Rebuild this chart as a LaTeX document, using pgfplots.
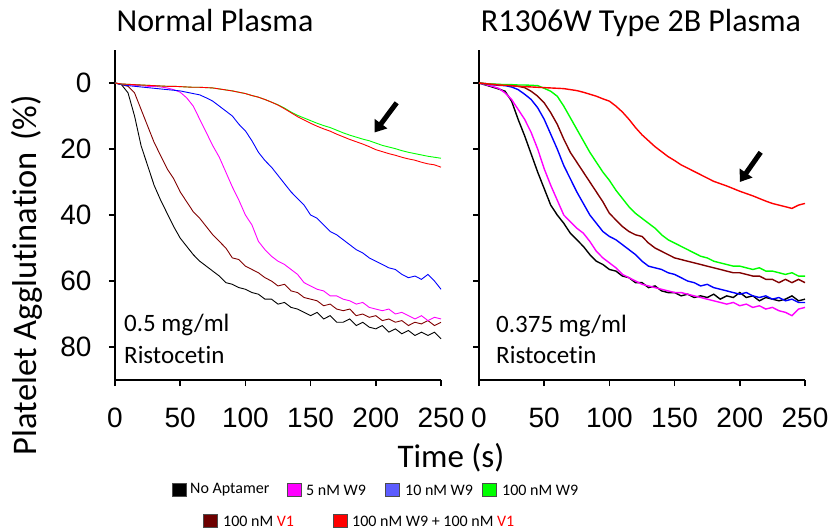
\documentclass[border=0pt]{standalone}
\usepackage{fontspec}
\setmainfont{Carlito}[Ligatures={NoCommon}]
\newfontfamily\arial{Liberation Sans}
\usepackage{pgfplots}
\pgfplotsset{compat=1.18}
\usetikzlibrary{arrows.meta}
\definecolor{dred}{RGB}{128,0,0}
\definecolor{lblue}{RGB}{92,92,255}
\definecolor{lgreen}{RGB}{0,255,0}
\definecolor{mag}{RGB}{255,0,255}
\definecolor{pblue}{RGB}{0,0,255}
\definecolor{pred}{RGB}{255,0,0}
\pgfplotsset{panel/.style={
  scale only axis, width=326pt, height=330pt, anchor=south west,
  xmin=0, xmax=250, ymin=-10, ymax=90, y dir=reverse,
  axis x line=bottom, axis y line=left,
  axis line style={line width=1.5pt,-},
  xtick={0,50,...,250}, ytick={0,20,...,80},
  tick align=outside, major tick length=6pt,
  tick style={line width=1.5pt,black},
  /pgf/number format/assume math mode=true,
  yticklabel style={font=\fontsize{28}{30}\selectfont\arial, xshift=-14pt},
  xticklabel=\empty,
  clip=false,
  every axis plot/.append style={no markers}
}}
\newcommand\xlabels{\pgfplotsinvokeforeach{0,50,100,150,200,250}{%
  \node[anchor=north, inner sep=0pt, font=\fontsize{28}{30}\selectfont\arial] at ([yshift=-28pt]axis cs:##1,90) {##1};}}
\begin{document}
\begin{tikzpicture}
\path[use as bounding box] (-115pt,-151pt) rectangle (721pt,380pt);
% Left panel
\begin{axis}[panel, at={(0pt,0pt)}]
\addplot[black, line width=0.9pt] coordinates {(0,0)(5,0.5)(10,3)(15,10)(20,19)(25,25)(30,31)(35,35.5)(40,39.5)(45,43.5)(50,47)(55,49.5)(60,52)(65,54)(70,55.5)(75,57)(80,58.5)(85,60.5)(90,61)(95,62)(100,62.5)(105,63.5)(110,64)(115,65.5)(120,65.5)(125,67)(130,66.5)(135,68)(140,68.5)(145,69.5)(150,70.5)(155,69.5)(160,71.5)(165,70.5)(170,72.5)(175,72.5)(180,71.5)(185,73.5)(190,72.5)(195,74)(200,74.5)(205,73.5)(210,75.5)(215,74.5)(220,76)(225,75)(230,76.5)(235,75.5)(240,76.5)(245,75.5)(250,77.5)};
\addplot[dred, line width=0.9pt] coordinates {(0,0)(5,0.5)(10,1)(15,3)(20,8)(25,13)(30,18)(35,22)(40,26)(45,29)(50,33)(55,36)(60,39)(65,41)(70,43.5)(75,46)(80,48)(85,50)(90,53)(95,53.5)(100,55.5)(105,56.5)(110,57.5)(115,59)(120,60)(125,61.5)(130,61)(135,63)(140,63.5)(145,65)(150,65.5)(155,66)(160,67.5)(165,67)(170,68.5)(175,69)(180,68.5)(185,70.5)(190,70)(195,71)(200,70.5)(205,72)(210,71.5)(215,72.5)(220,72)(225,73.5)(230,72.5)(235,73)(240,72)(245,73.5)(250,72.5)};
\addplot[mag, line width=0.9pt] coordinates {(0,0)(5,0.3)(10,0.5)(15,0.7)(20,0.8)(25,1)(30,1)(35,1.2)(40,1.5)(45,2)(50,2.8)(55,4.5)(60,7)(65,11)(70,15)(75,19)(80,22.5)(85,27)(90,31.5)(95,35.5)(100,40)(105,43)(110,48)(115,50.5)(120,52.5)(125,54)(130,55)(135,56.5)(140,58)(145,60.5)(150,61.5)(155,62.5)(160,63)(165,64.5)(170,64.5)(175,65.5)(180,66)(185,67)(190,66.5)(195,68)(200,68.5)(205,69)(210,68.5)(215,70)(220,69.5)(225,70.5)(230,71.5)(235,70.5)(240,72)(245,71)(250,71.5)};
\addplot[pblue, line width=0.9pt] coordinates {(0,0)(5,0.5)(10,0.8)(15,1)(20,1.2)(25,1.4)(30,1.6)(35,1.8)(40,2)(45,2.2)(50,2.4)(55,2.8)(60,3.2)(65,3.6)(70,4.5)(75,5.5)(80,7)(85,8.5)(90,10)(95,12.5)(100,14.5)(105,17.5)(110,21)(115,23.5)(120,25.5)(125,28)(130,30.5)(135,33)(140,35)(145,37)(150,40)(155,41)(160,43)(165,45)(170,46)(175,47.5)(180,49)(185,50.5)(190,51.5)(195,53)(200,54)(205,55)(210,56)(215,56.5)(220,58)(225,59)(230,58.5)(235,59.5)(240,58)(245,60)(250,62.5)};
\addplot[lgreen, line width=0.9pt] coordinates {(0,0)(5,0.3)(10,0.4)(15,0.5)(20,0.6)(25,0.7)(30,0.8)(35,0.9)(40,1)(45,1)(50,1.1)(55,1.2)(60,1.3)(65,1.3)(70,1.4)(75,1.5)(80,1.8)(85,2.1)(90,2.4)(95,2.8)(100,3.2)(105,3.8)(110,4.3)(115,5)(120,5.8)(125,6.6)(130,7.6)(135,8.8)(140,9.8)(145,10.6)(150,11.4)(155,12.2)(160,12.9)(165,13.5)(170,14.3)(175,15.1)(180,15.8)(185,16.4)(190,17)(195,17.5)(200,18.2)(205,18.9)(210,19.4)(215,19.9)(220,20.5)(225,21)(230,21.4)(235,21.8)(240,22.2)(245,22.5)(250,22.8)};
\addplot[pred, line width=0.9pt] coordinates {(0,0)(5,0.3)(10,0.4)(15,0.5)(20,0.6)(25,0.7)(30,0.8)(35,0.9)(40,1)(45,1)(50,1.1)(55,1.2)(60,1.3)(65,1.3)(70,1.4)(75,1.5)(80,1.8)(85,2.1)(90,2.4)(95,2.8)(100,3.2)(105,3.8)(110,4.3)(115,5)(120,5.8)(125,6.7)(130,7.8)(135,9)(140,10.2)(145,11.2)(150,12.2)(155,13.1)(160,13.9)(165,14.6)(170,15.5)(175,16.3)(180,17.1)(185,17.8)(190,18.5)(195,19.3)(200,20.2)(205,20.8)(210,21.4)(215,21.9)(220,22.5)(225,23)(230,23.4)(235,24)(240,24.5)(245,24.8)(250,25.5)};
\draw[-{Triangle[length=11pt,width=15pt]}, line width=5pt] (axis cs:216,6) -- (axis cs:199,15);
\xlabels
\end{axis}
% Right panel
\begin{axis}[panel, at={(364pt,0pt)}, yticklabel=\empty]
\addplot[black, line width=1.4pt] coordinates {(0,0)(5,0.6)(10,1.2)(15,1.8)(20,2.5)(25,5.5)(30,11)(35,16)(40,21.5)(45,27)(50,32)(55,37)(60,40)(65,42.5)(70,45.5)(75,47.5)(80,49.5)(85,52)(90,54)(95,55)(100,56.5)(105,57)(110,58.5)(115,59)(120,60.5)(125,60.5)(130,62)(135,61.5)(140,63)(145,63.5)(150,63.5)(155,64.5)(160,64)(165,65)(170,64.5)(175,65)(180,64)(185,65.5)(190,64.5)(195,65)(200,63.5)(205,65)(210,64.5)(215,66)(220,65)(225,65.5)(230,66)(235,65.5)(240,64.5)(245,66)(250,65.5)};
\addplot[mag, line width=1.4pt] coordinates {(0,0)(5,0.5)(10,1)(15,1.6)(20,3)(25,5)(30,8)(35,11)(40,15)(45,20)(50,26)(55,31)(60,35.5)(65,40)(70,42)(75,44)(80,45.5)(85,48)(90,51)(95,53)(100,54.5)(105,56)(110,58)(115,59)(120,60)(125,61)(130,61.5)(135,62)(140,62.5)(145,63)(150,63.5)(155,63.5)(160,64)(165,64.5)(170,65)(175,65.5)(180,66)(185,66.5)(190,67)(195,66.5)(200,67.5)(205,67)(210,68)(215,67.5)(220,68.5)(225,68)(230,69)(235,69.5)(240,70.5)(245,68.5)(250,68)};
\addplot[pblue, line width=1.4pt] coordinates {(0,0)(5,0.3)(10,0.5)(15,0.7)(20,0.8)(25,1.2)(30,2)(35,3.4)(40,5)(45,7.5)(50,11)(55,15.5)(60,20)(65,25)(70,29)(75,33)(80,36.5)(85,40)(90,42.5)(95,45)(100,46.5)(105,47.5)(110,49)(115,50.5)(120,52)(125,54)(130,55.5)(135,56)(140,56.5)(145,57.5)(150,58)(155,59)(160,60)(165,60.5)(170,61.5)(175,61)(180,62)(185,62.5)(190,63)(195,63.5)(200,64)(205,63.5)(210,64.5)(215,65)(220,64.5)(225,65.5)(230,65)(235,66)(240,65.5)(245,66.5)(250,66.5)};
\addplot[dred, line width=1.4pt] coordinates {(0,0)(5,0.2)(10,0.4)(15,0.5)(20,0.6)(25,0.8)(30,1)(35,1.4)(40,2.5)(45,4)(50,6)(55,9)(60,12.5)(65,17)(70,21)(75,24)(80,27)(85,30)(90,33)(95,36)(100,39.5)(105,41.5)(110,43.5)(115,45)(120,46)(125,46.5)(130,48.5)(135,50)(140,51)(145,52)(150,53)(155,53.5)(160,54)(165,54.5)(170,55)(175,55.5)(180,56)(185,56.5)(190,57)(195,57.5)(200,57.5)(205,58)(210,58.5)(215,58.5)(220,59.5)(225,59.5)(230,60.5)(235,59.5)(240,60.5)(245,59.5)(250,60.5)};
\addplot[lgreen, line width=1.4pt] coordinates {(0,0)(5,0.2)(10,0.3)(15,0.4)(20,0.5)(25,0.5)(30,0.6)(35,0.6)(40,0.7)(45,0.8)(50,1.6)(55,2.5)(60,4)(65,7)(70,10.5)(75,14)(80,17.5)(85,21)(90,24)(95,27)(100,29.5)(105,32.5)(110,35)(115,37.5)(120,39.5)(125,41)(130,42.5)(135,44)(140,46)(145,47.5)(150,48.5)(155,49.5)(160,50.5)(165,51.5)(170,52.5)(175,53)(180,54)(185,54.5)(190,55)(195,55.5)(200,55.5)(205,56)(210,56.5)(215,56)(220,57)(225,57)(230,57.5)(235,58)(240,57.5)(245,58.5)(250,58.5)};
\addplot[pred, line width=1.4pt] coordinates {(0,0)(5,0.2)(10,0.4)(15,0.6)(20,0.7)(25,0.8)(30,1)(35,1.1)(40,1.2)(45,1.3)(50,1.4)(55,1.5)(60,1.6)(65,1.7)(70,2)(75,2.3)(80,2.8)(85,3.4)(90,4)(95,4.8)(100,5.5)(105,7)(110,8.8)(115,11)(120,13.5)(125,15.7)(130,17.5)(135,19.3)(140,20.8)(145,22.3)(150,23.5)(155,24.8)(160,25.8)(165,26.8)(170,27.8)(175,28.8)(180,29.8)(185,30.5)(190,31.2)(195,32)(200,32.8)(205,33.5)(210,34.2)(215,35)(220,35.8)(225,36.5)(230,37)(235,37.5)(240,38)(245,37)(250,36.5)};
\draw[-{Triangle[length=11pt,width=15pt]}, line width=5pt] (axis cs:216,21) -- (axis cs:200,30);
\xlabels
\end{axis}
% Titles and labels
\node[anchor=base, inner sep=0, font=\fontsize{32}{34}\selectfont] at (100pt,348pt) {Normal Plasma};
\node[anchor=base, inner sep=0, font=\fontsize{32}{34}\selectfont] at (526pt,348pt) {R1306W Type 2B Plasma};
\node[rotate=90, inner sep=0, font=\fontsize{34.5}{36}\selectfont] at (-88pt,105pt) {Platelet Agglutination\,\,(\%)};
\node[inner sep=0, font=\fontsize{33}{35}\selectfont] at (336pt,-78pt) {Time (s)};
\node[anchor=base west, inner sep=0, font=\fontsize{25}{27}\selectfont] at (9pt,49pt) {0.5 mg/ml};
\node[anchor=base west, inner sep=0, font=\fontsize{25}{27}\selectfont] at (9pt,17pt) {Ristocetin};
\node[anchor=base west, inner sep=0, font=\fontsize{25}{27}\selectfont] at (381pt,48pt) {0.375 mg/ml};
\node[anchor=base west, inner sep=0, font=\fontsize{25}{27}\selectfont] at (381pt,17pt) {Ristocetin};
% Legend
\begin{scope}[every node/.style={anchor=west, inner sep=0, font=\fontsize{16}{18}\selectfont}]
\filldraw[fill=black, draw=black!70, line width=0.8pt] (57.5pt,-116.5pt) rectangle (71.5pt,-103.5pt);
\node at (75pt,-110pt) {No Aptamer};
\filldraw[fill=mag, draw=black!70, line width=0.8pt] (172.5pt,-116.5pt) rectangle (186.5pt,-103.5pt);
\node at (191pt,-110pt) {5 nM W9};
\filldraw[fill=lblue, draw=black!70, line width=0.8pt] (270.5pt,-116.5pt) rectangle (284.5pt,-103.5pt);
\node at (290pt,-110pt) {10 nM W9};
\filldraw[fill=lgreen, draw=black!70, line width=0.8pt] (367.5pt,-116.5pt) rectangle (381.5pt,-103.5pt);
\node at (387pt,-110pt) {100 nM W9};
\filldraw[fill=dred!85!black, draw=black!70, line width=0.8pt] (88.5pt,-147.5pt) rectangle (102.5pt,-134.5pt);
\node at (108pt,-141pt) {100 nM \textcolor{pred}{V1}};
\filldraw[fill=pred, draw=black!70, line width=0.8pt] (218.5pt,-147.5pt) rectangle (232.5pt,-134.5pt);
\node at (237pt,-141pt) {100 nM W9 + 100 nM \textcolor{pred}{V1}};
\end{scope}
\end{tikzpicture}
\end{document}
